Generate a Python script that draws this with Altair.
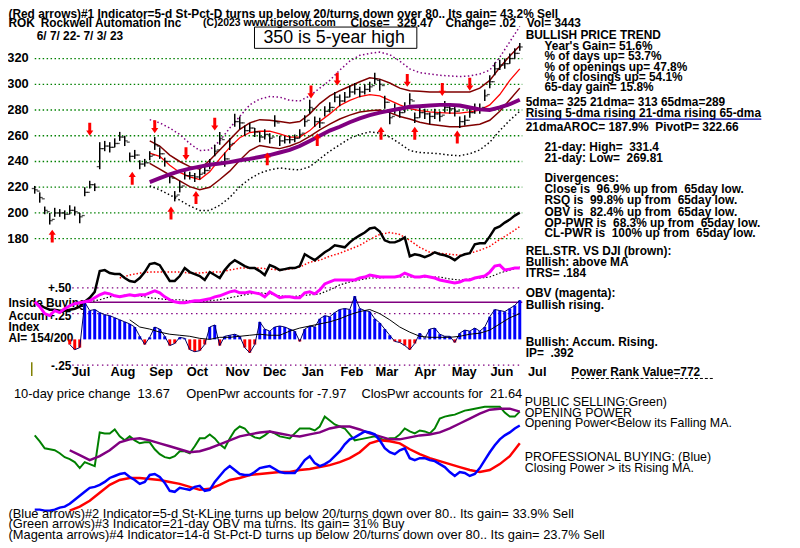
import altair as alt
import pandas as pd

FONT = "Liberation Sans"
START = pd.Timestamp("2022-06-07")
NB = "\u00a0"

# ---------------- sampled trading calendar (day offsets from 2022-06-07) ----------------
bar_days = list(range(0, 389, 4))     # 98 sampled sessions
line_days = list(range(4, 389, 8))    # 49 sampled points for the smooth lines

# ---------------- price bars ----------------
close = [218, 212, 202, 194, 200, 200, 199, 202, 201, 197,
         216, 222, 220, 250, 252, 251, 254, 259, 256, 244,
         245, 238, 239, 244, 253, 246, 240, 228, 213, 220,
         229, 229, 228, 230, 233, 238, 248, 258, 242, 253,
         271, 270, 264, 266, 263, 259, 261, 258, 271, 256,
         257, 257, 258, 261, 271, 282, 271, 270, 279, 282,
         290, 287, 290, 294, 296, 294, 296, 298, 304, 300,
         286, 274, 281, 278, 282, 288, 274, 278, 277, 275,
         277, 275, 282, 281, 279, 271, 272, 278, 281, 281,
         291, 302, 312, 315, 316, 320, 324, 329]
opens = [219, 217, 211, 201, 195, 200, 200, 199, 202, 200,
         198, 216, 222, 236, 250, 252, 251, 254, 259, 255,
         244, 245, 238, 239, 245, 252, 246, 240, 227, 214,
         221, 229, 229, 228, 231, 233, 238, 249, 257, 242,
         254, 271, 270, 264, 266, 263, 259, 261, 259, 270,
         256, 257, 257, 258, 262, 272, 281, 271, 270, 279,
         282, 290, 287, 290, 294, 296, 294, 296, 299, 303,
         299, 286, 275, 281, 278, 282, 287, 274, 278, 277,
         275, 277, 276, 282, 281, 279, 271, 272, 278, 281,
         282, 292, 302, 312, 315, 316, 320, 324]
bar_up = [3, 4, 3, 6, 4, 3, 3, 4, 4, 3,
          4, 3, 3, 5, 4, 4, 4, 4, 4, 3,
          4, 3, 3, 4, 6, 5, 3, 3, 4, 5,
          4, 3, 3, 4, 4, 4, 5, 5, 5, 5,
          6, 5, 4, 4, 3, 4, 4, 4, 5, 4,
          3, 3, 3, 4, 5, 6, 4, 4, 4, 4,
          4, 5, 4, 5, 5, 4, 4, 4, 5, 4,
          5, 5, 4, 4, 4, 5, 4, 4, 4, 3,
          4, 4, 5, 4, 4, 4, 4, 4, 4, 4,
          5, 5, 5, 4, 4, 4, 4, 3]
bar_dn = [3, 4, 3, 3, 3, 3, 4, 3, 3, 5,
          3, 3, 3, 16, 4, 4, 3, 3, 4, 4,
          3, 4, 3, 3, 4, 4, 4, 5, 4, 4,
          3, 3, 4, 4, 3, 4, 4, 5, 6, 4,
          4, 5, 4, 3, 4, 4, 4, 4, 4, 4,
          3, 3, 3, 3, 4, 5, 4, 4, 4, 4,
          4, 4, 4, 4, 4, 4, 4, 4, 4, 5,
          5, 5, 4, 4, 4, 4, 4, 4, 4, 6,
          4, 4, 4, 4, 4, 5, 4, 4, 4, 4,
          4, 5, 5, 4, 4, 4, 4, 3]

# ---------------- price moving averages and bands (line grid) ----------------
N11 = [None] * 11
ma65 = N11 + [224, 227, 230, 232.5, 234.5, 236, 237.5, 238.5, 239.5, 241,
              242, 243.5, 245, 247, 249, 252, 256, 260, 264, 267,
              270.5, 273.5, 276, 278, 279.5, 281, 282.5, 283, 283.5, 284,
              284, 283.5, 282, 280.5, 280, 282, 284.5, 288]
ma21 = N11 + [246.5, 244, 237, 231.5, 228, 226, 232, 242, 251, 258.5,
              262.5, 263.5, 263.5, 261.5, 259, 259, 264, 271, 277, 283.5,
              287.5, 290.5, 292, 291, 287.5, 284, 281, 279.5, 278.5, 278,
              277.5, 277.5, 278.5, 280, 284, 292, 303, 312]
band_hi = N11 + [256, 252, 245, 240, 236, 234, 241, 249, 257, 265,
                 270, 272.5, 272, 271, 270, 271, 277, 285, 291, 295,
                 298.5, 302, 305, 304, 301, 297, 295, 294.5, 294, 294,
                 294, 294, 294, 297, 303, 313, 322, 330]
band_lo = N11 + [238.5, 234, 229.5, 225, 220.5, 218, 220, 226, 232.5, 241,
                 248.5, 252.5, 251, 250, 252, 255, 259.5, 264.5, 269, 273,
                 276, 278.5, 279.5, 280, 278, 275, 273, 270.5, 269, 268,
                 267, 267, 268, 269, 272, 279, 288, 297]
env_hi = N11 + [272.5, 270, 266, 261, 254, 248.5, 249, 256, 266, 275,
                284, 288.5, 290.5, 290, 287.5, 287, 291, 297, 303, 311,
                318, 322.5, 324, 325, 323, 318, 312, 309, 308, 307,
                306.5, 306, 306.5, 308, 311, 321, 333, 345]
env_lo = N11 + [221, 218, 214, 210, 205.5, 202, 202, 206, 212, 220.5,
                226.5, 231, 233.5, 235, 234, 233.5, 236, 242, 248, 253,
                258, 261, 263, 262, 259, 254, 248.5, 247, 246.5, 246,
                245, 244.5, 246, 249, 255, 264, 272, 279]

# ---------------- red signal arrows ----------------
arrow_dn_day = [44, 96, 121, 144, 221, 242, 298, 326, 348]
arrow_dn_val = [265, 267, 246, 269, 294, 304, 303, 296, 300]
arrow_up_day = [14, 78, 109, 129, 186, 226, 277, 304, 338]
arrow_up_val = [182, 227, 200, 212, 242, 257, 262, 262, 259]

# ---------------- relative strength (black) and its MA (red dotted) ----------------
rel_str = [None, 15, 12, 10, 10, 9, 9, 10, 11, 13,
           18, 22, 28, 49, 50, 47, 46, 46, 42, 39,
           38, 42, 48, 56, 57, 55, 47, 39, 39, 44,
           52, 48, 46, 44, 40, 48, 45, 42, 50, 56,
           60, 57, 54, 52, 52, 49, 45, 55, 53, 50,
           51, 52, 52, 54, 66, 63, 60, 64, 68, 71,
           75, 74, 73, 78, 82, 85, 88, 92, 93, 89,
           80, 78, 78, 80, 83, 64, 66, 65, 63, 65,
           68, 66, 65, 63, 60, 64, 66, 67, 76, 77,
           77, 84, 92, 94, 98, 101, 105, 108]
rel_str_ma = [None] * 8 + [42, 45, 47, 48, 48, 48, 48, 47, 47, 48,
                           48, 50, 52, 52, 52, 51, 50, 51, 53, 58,
                           60, 64, 67, 71, 75, 81, 86, 88, 86, 80,
                           73, 68, 67, 66, 65, 67, 70, 74, 81, 87,
                           94]

# ---------------- OBV (magenta) and its MA (black dotted) ----------------
obv = [18, 13, 6, 4, 9, 7, 11, 14, 16, 17,
       18, 19, 22, 25, 27, 26, 24, 23, 24, 25,
       24, 25, 25, 27, 29, 27, 23, 20, 18, 17,
       17, 18, 19, 19, 20, 21, 23, 24, 26, 28,
       29, 27, 27, 28, 27, 26, 23, 28, 25, 22,
       23, 23, 22, 22, 27, 28, 26, 30, 36, 38,
       40, 40, 40, 40, 40, 42, 43, 45, 44, 43,
       43, 43, 43, 44, 47, 45, 43, 43, 44, 43,
       42, 40, 39, 38, 37, 38, 40, 40, 42, 43,
       44, 48, 54, 55, 50, 51, 52, 52]
obv_ma = [None] * 5 + [18, 20, 23, 24, 25, 24, 22, 21, 20, 20,
                       19, 18, 19, 20, 22, 24, 26, 27, 26, 24,
                       23, 24, 25, 26, 30, 35, 38, 40, 42, 42,
                       43, 43, 43, 43, 43, 43, 41, 40, 41, 42,
                       43, 47, 50, 53]

# ---------------- accumulation index ----------------
accum = [None] * 7 + [-0.05, -0.10, -0.08,
                      0.36, 0.28, 0.29, 0.26, 0.24, 0.23, 0.21, 0.19, 0.17, 0.15,
                      0.12, 0.03, -0.05, 0.02, 0.12, 0.10, 0.03, -0.06, -0.04, 0.02,
                      0.01, -0.10, -0.12, -0.11, -0.05, 0.12, 0.14, -0.06, 0.03, 0.04,
                      0.05, 0.03, -0.08, -0.13, -0.05, 0.17, 0.10, 0.08, 0.12, 0.13,
                      0.12, 0.10, 0.08, -0.02, 0.10, 0.13, 0.12, 0.20, 0.23, 0.22,
                      0.26, 0.29, 0.30, 0.29, 0.42, 0.30, 0.28, 0.27, 0.20, 0.16,
                      0.10, 0.04, -0.02, -0.03, -0.06, -0.10, -0.04, 0.06, 0.01, 0.10,
                      0.11, 0.05, 0.03, 0.03, -0.03, 0.06, 0.09, 0.08, 0.11, 0.08,
                      0.12, 0.22, 0.29, 0.28, 0.27, 0.30, 0.33, 0.38]
accum_ma = [None] * 9 + [0.19, 0.12, 0.10, 0.07, 0.05, 0.04, 0.03, 0.01, 0.00, 0.02,
                         0.02, 0.03, 0.04, 0.05, 0.04, 0.04, 0.08, 0.11, 0.13, 0.15,
                         0.17, 0.20, 0.24, 0.27, 0.29, 0.25, 0.19, 0.12, 0.07, 0.03,
                         0.02, 0.02, 0.02, 0.03, 0.05, 0.06, 0.09, 0.15, 0.21, 0.25]
ai_levels_dotted = [0.5, 0.25, -0.25]
ai_level_solid = [0.36]

# ---------------- opening power (green) / closing power (blue) ----------------
open_pwr = [83, 77, 70, 69, 68, 65, 61, 59, 56, 50,
            56, 54, 52, 86, 85, 85, 89, 82, 78, 82,
            78, 75, 76, 76, 69, 64, 61, 60, 62, 67,
            67, 65, 72, 80, 80, 84, 80, 74, 70, 80,
            88, 92, 90, 84, 81, 80, 83, 87, 85, 82,
            81, 80, 85, 90, 90, 90, 88, 92, 102, 98,
            94, 92, 90, 84, 78, 79, 80, 81, 82, 80,
            78, 80, 80, 84, 90, 87, 85, 88, 87, 85,
            90, 100, 102, 103, 104, 106, 108, 109, 110, 111,
            112, 112, 112, 112, 106, 102, 102, 107]
close_pwr = [8, 8, 7, 7, 8, 10, 11, 14, 18, 22,
             26, 30, 31, 33, 36, 40, 42, 44, 45, 41,
             38, 34, 36, 43, 44, 41, 35, 27, 26, 30,
             29, 28, 31, 32, 27, 28, 36, 42, 48, 52,
             48, 44, 43, 43, 46, 50, 51, 52, 49, 46,
             45, 45, 45, 51, 58, 62, 55, 52, 54, 57,
             62, 67, 74, 79, 81, 84, 87, 86, 84, 78,
             70, 66, 64, 68, 70, 60, 58, 60, 60, 58,
             57, 54, 51, 46, 42, 46, 45, 42, 44, 50,
             58, 66, 73, 79, 83, 86, 90, 93]
open_pwr_ma = [None] * 3 + [68, 63, 58, 62, 68, 76, 79, 80, 78, 75,
                            72, 69, 66, 67, 70, 74, 78, 82, 84, 86,
                            87, 85, 83, 82, 84, 86, 90, 92, 92, 89,
                            85, 82, 79, 79, 81, 83, 84, 86, 90, 95,
                            100, 105, 109, 110, 110, 107]
close_pwr_ma = [None] * 3 + [7, 11, 17, 25, 33, 38, 40, 40, 39, 38,
                             36, 34, 31, 28, 29, 33, 38, 40, 43, 44,
                             45, 46, 46, 48, 49, 51, 53, 56, 60, 66,
                             75, 78, 77, 75, 69, 64, 60, 57, 54, 51,
                             48, 46, 48, 54, 62, 75]

price_ticks = [180, 200, 220, 240, 260, 280, 300, 320]
month_names = ["Jul", "Aug", "Sep", "Oct", "Nov", "Dec", "Jan", "Feb", "Mar", "Apr", "May", "Jun", "Jul"]
month_starts = ["2022-07-01", "2022-08-01", "2022-09-01", "2022-10-01", "2022-11-01", "2022-12-01",
                "2023-01-01", "2023-02-01", "2023-03-01", "2023-04-01", "2023-05-01", "2023-06-01", "2023-07-01"]

# ---------------- scales (one per panel) ----------------
XS = alt.Scale(domain=[0, 388], range=[35, 525], zero=False, nice=False)
PS = alt.Scale(domain=[180, 320], range=[238.3, 56.3], zero=False, nice=False)
RS = alt.Scale(domain=[0, 120], range=[320, 200], zero=False, nice=False)
AIS = alt.Scale(domain=[-0.25, 0.5], range=[366, 288], zero=False, nice=False)
PW = alt.Scale(domain=[0, 120], range=[520, 400], zero=False, nice=False)


def X(field="day"):
    return alt.X(f"{field}:Q", scale=XS, axis=None)


def Y(scale, field="v"):
    return alt.Y(f"{field}:Q", scale=scale, axis=None)


def line(days, vals, scale, color, width, dash=None):
    df = pd.DataFrame({"day": days, "v": vals}).dropna()
    kw = dict(color=color, strokeWidth=width, strokeCap="butt")
    if dash:
        kw["strokeDash"] = dash
    return alt.Chart(df).mark_line(**kw).encode(x=X(), y=Y(scale))


def hrules(vals, scale, d0, d1, color, width, dash=None):
    df = pd.DataFrame({"v": vals, "d0": d0, "d1": d1})
    kw = dict(color=color, strokeWidth=width)
    if dash:
        kw["strokeDash"] = dash
    return alt.Chart(df).mark_rule(**kw).encode(x=X("d0"), x2="d1:Q", y=Y(scale))


def sp(s):
    # keep the double spaces of the original report
    return s.replace("  ", " " + NB)


def texts(rows, size=12, weight="bold", color="black", align="left", font=FONT):
    df = pd.DataFrame([(a, b, sp(c)) for a, b, c in rows], columns=["px", "py", "t"])
    return alt.Chart(df).mark_text(align=align, baseline="middle", fontSize=size,
                                   fontWeight=weight, font=font, color=color).encode(
        x=alt.X("px:Q", scale=None), y=alt.Y("py:Q", scale=None), text="t:N")


def pixrule(x0, x1, y0, y1, color, width, dash=None):
    df = pd.DataFrame({"x0": [x0], "x1": [x1], "y0": [y0], "y1": [y1]})
    kw = dict(color=color, strokeWidth=width)
    if dash:
        kw["strokeDash"] = dash
    return alt.Chart(df).mark_rule(**kw).encode(
        x=alt.X("x0:Q", scale=None), x2="x1:Q", y=alt.Y("y0:Q", scale=None), y2="y1:Q")


layers = []

# green dotted price grid
layers.append(hrules(price_ticks, PS, 0, 390, "#008000", 1.3, [1.5, 2.5]))
# price tick labels
tick_df = pd.DataFrame({"v": price_ticks, "t": [str(t) for t in price_ticks]})
layers.append(alt.Chart(tick_df).mark_text(align="right", baseline="middle", fontSize=13,
                                           fontWeight="bold", font=FONT, color="black").encode(
    x=alt.value(29), y=Y(PS), text="t:N"))

# bands
layers.append(line(line_days, env_hi, PS, "#800080", 1.5, [1.5, 2.5]))
layers.append(line(line_days, env_lo, PS, "black", 1.5, [1.5, 2.5]))
layers.append(line(line_days, band_hi, PS, "#800000", 1.5))
layers.append(line(line_days, band_lo, PS, "#800000", 1.5))
layers.append(line(line_days, ma21, PS, "#ff0000", 1.3))

# price bars (high-low with open tick on the left, close tick on the right)
bars = pd.DataFrame({"day": bar_days, "close": close, "open": opens,
                     "hi": [c + u for c, u in zip(close, bar_up)],
                     "lo": [c - d for c, d in zip(close, bar_dn)]})
layers.append(alt.Chart(bars).mark_rule(color="black", strokeWidth=1.5).encode(
    x=X(), y=Y(PS, "lo"), y2="hi:Q"))
layers.append(alt.Chart(bars).mark_tick(orient="horizontal", color="black", thickness=1.3,
                                        size=3, xOffset=1.5).encode(x=X(), y=Y(PS, "close")))
layers.append(alt.Chart(bars).mark_tick(orient="horizontal", color="black", thickness=1.3,
                                        size=3, xOffset=-1.5).encode(x=X(), y=Y(PS, "open")))

layers.append(line(line_days, ma65, PS, "#800080", 4))

# arrows
DOWN = "M-0.23,-1 L0.23,-1 L0.23,0.2 L0.55,0.2 L0,1 L-0.55,0.2 L-0.23,0.2 Z"
UP = "M-0.23,1 L0.23,1 L0.23,-0.2 L0.55,-0.2 L0,-1 L-0.55,-0.2 L-0.23,-0.2 Z"
adn = pd.DataFrame({"day": arrow_dn_day, "v": arrow_dn_val})
aup = pd.DataFrame({"day": arrow_up_day, "v": arrow_up_val})
layers.append(alt.Chart(adn).mark_point(shape=DOWN, filled=True, color="#ff0000", size=170,
                                        opacity=1, strokeWidth=0).encode(x=X(), y=Y(PS)))
layers.append(alt.Chart(aup).mark_point(shape=UP, filled=True, color="#ff0000", size=170,
                                        opacity=1, strokeWidth=0).encode(x=X(), y=Y(PS)))

# relative strength
layers.append(line(line_days, rel_str_ma, RS, "#ff0000", 1.5, [1.5, 2]))
layers.append(line(bar_days, rel_str, RS, "black", 2.5))

# AI reference lines
layers.append(hrules(ai_levels_dotted, AIS, 30, 390, "#800080", 1.3, [1.5, 3.5]))
layers.append(hrules(ai_level_solid, AIS, 40, 390, "#800080", 1.5))

# left AI labels (drawn below the lines, as in the original)
layers.append(texts([(8.5, 303, "Inside Buying"), (8.5, 316, "Accum"), (8.5, 328, "Index"),
                     (8.5, 339, "AI= 154/200")], size=12))
layers.append(texts([(72, 288, "+.50"), (72, 316, "+.25"), (72, 367, "-.25")], size=12, align="right"))

# AI bars
ai_df = pd.DataFrame({"day": bar_days, "v": accum, "z": 0.0}).dropna()
pos = ai_df[ai_df.v >= 0]
neg = ai_df[ai_df.v < 0]
layers.append(alt.Chart(pos).mark_rule(color="#0000ff", strokeWidth=3).encode(
    x=X(), y=Y(AIS), y2="z:Q"))
layers.append(alt.Chart(neg).mark_rule(color="#ff0000", strokeWidth=3).encode(
    x=X(), y=Y(AIS), y2="z:Q"))
layers.append(line(bar_days, accum, AIS, "#000060", 1))
layers.append(line(line_days, accum_ma, AIS, "black", 1))

# OBV
layers.append(line(line_days, obv_ma, RS, "black", 1.2, [1.5, 2]))
layers.append(line(bar_days, obv, RS, "#ff00ff", 3))

# opening / closing power
layers.append(line(bar_days, open_pwr, PW, "#008000", 2))
layers.append(line(line_days, open_pwr_ma, PW, "#800080", 2.5))
layers.append(line(line_days, close_pwr_ma, PW, "#ff0000", 2.5))
layers.append(line(bar_days, close_pwr, PW, "#0000ff", 2.5))

# olive marker
layers.append(pixrule(32, 32, 363, 377, "#808000", 1.5))

# month labels
mdf = pd.DataFrame({"day": [(pd.Timestamp(d) - START).days for d in month_starts],
                    "t": month_names, "py": 373})
layers.append(alt.Chart(mdf).mark_text(align="left", baseline="middle", dx=7, fontSize=13,
                                       fontWeight="bold", font=FONT, color="black").encode(
    x=X(), y=alt.Y("py:Q", scale=None), text="t:N"))

# boxed note
box = pd.DataFrame({"x0": [257], "x1": [421], "y0": [24.5], "y1": [46]})
layers.append(alt.Chart(box).mark_rect(fill="white", stroke="black", strokeWidth=1).encode(
    x=alt.X("x0:Q", scale=None), x2="x1:Q", y=alt.Y("y0:Q", scale=None), y2="y1:Q"))
layers.append(texts([(266, 35.5, "350 is 5-year high")], size=18, weight="normal"))

# header text
layers.append(texts([
    (8.5, 11.5, "(Red arrows)#1 Indicator=5-d St-Pct-D turns up below 20/turns down over 80.. Its gain= 43.2% Sell"),
    (8.5, 20.5, "ROK"),
    (41, 20.5, "Rockwell Automation Inc"),
    (354, 20.5, "Close="),
    (401, 20.5, "329.47"),
    (450, 20.5, "Change= .02"),
    (532, 20.5, "Vol= 3443"),
    (37, 34, "6/ 7/ 22- 7/ 3/ 23"),
]))
layers.append(texts([(205, 20.5, "(C)2023 www.tigersoft.com")], size=10.5))

# right-side report
layers.append(texts([
    (531, 33, "BULLISH PRICE TREND"),
    (550, 43.5, "Year's Gain= 51.6%"),
    (550, 54, "% of days up= 53.7%"),
    (550, 64.5, "% of openings up= 47.8%"),
    (550, 74.5, "% of closings up= 54.1%"),
    (550, 85, "65-day gain= 15.8%"),
    (531, 100.5, "5dma= 325 21dma= 313 65dma=289"),
    (531, 111.5, "Rising 5-dma rising 21-dma rising 65-dma"),
    (531, 126, "21dmaAROC= 187.9%  PivotP= 322.66"),
    (550, 146, "21-day: High=  331.4"),
    (550, 157, "21-day: Low=  269.81"),
    (550, 177, "Divergences:"),
    (550, 188, "Close is  96.9% up from  65day low."),
    (550, 199.5, "RSQ is  99.8% up from  65day low."),
    (550, 211, "OBV is  82.4% up from  65day low."),
    (550, 222, "OP-PWR is  68.3% up from  65day low."),
    (550, 233, "CL-PWR is  100% up from  65day low."),
    (531, 251, "REL.STR. VS DJI (brown):"),
    (531, 262, "Bullish: above MA"),
    (531, 273, "ITRS= .184"),
    (531, 293, "OBV (magenta):"),
    (531, 305, "Bullish rising."),
    (531, 343, "Bullish: Accum. Rising."),
    (531, 354, "IP=  .392"),
    (577, 373, "Power Rank Value=772"),
]))
layers.append(pixrule(531, 769, 117.5, 117.5, "#0000aa", 1.5))
layers.append(pixrule(577, 722, 379.5, 379.5, "black", 1, [3, 2]))

# lower text
layers.append(texts([
    (14, 395, "10-day price change  13.67"),
    (188, 395, "OpenPwr accounts for -7.97"),
    (365, 395, "ClosPwr accounts for  21.64"),
    (8.5, 516, "(Blue arrows)#2 Indicator=5-d St-KLine turns up below 20/turns down over 80.. Its gain= 33.9% Sell"),
    (8.5, 527, "(Green arrows)#3 Indicator=21-day OBV ma turns. Its gain= 31% Buy"),
    (8.5, 538, "(Magenta arrows)#4 Indicator=14-d St-Pct-D turns up below 20/turns down over 80.. Its gain= 23.7% Sell"),
], size=13, weight="normal"))
layers.append(texts([
    (530, 403, "PUBLIC SELLING:Green)"),
    (530, 414, "OPENING POWER"),
    (530, 425, "Opening Power<Below its Falling MA."),
    (530, 459, "PROFESSIONAL BUYING: (Blue)"),
    (530, 470, "Closing Power > its Rising MA."),
], size=12.5, weight="normal"))

chart = alt.layer(*layers).resolve_scale(x="independent", y="independent").properties(
    width=800, height=548,
    padding={"left": -8, "top": -8, "right": 0, "bottom": 0},
    autosize=alt.AutoSizeParams(type="none"),
    background="white",
).configure_view(stroke=None)

chart.save("out.html", embed_options={"renderer": "svg", "actions": False})
